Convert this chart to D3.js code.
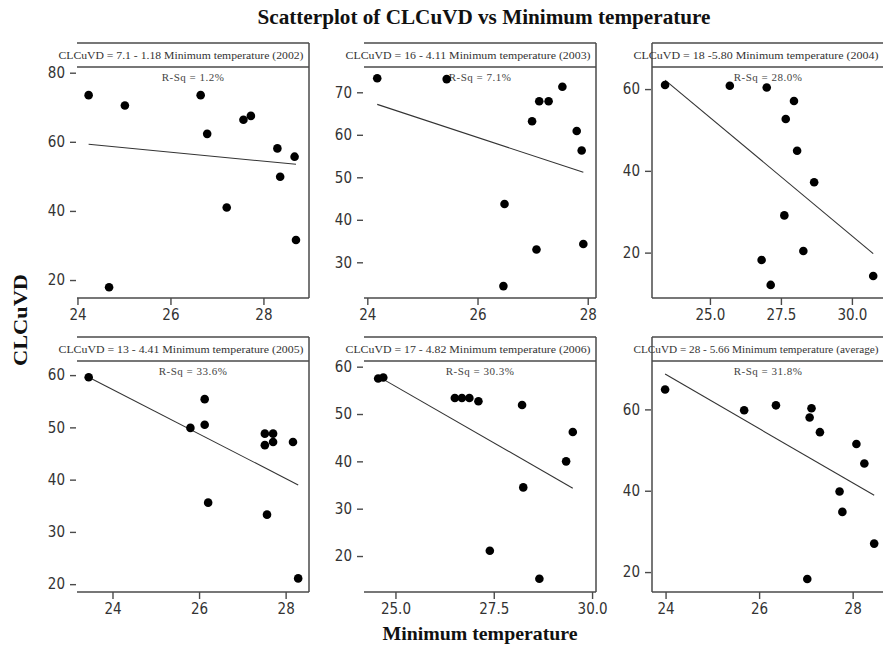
<!DOCTYPE html>
<html><head><meta charset="utf-8">
<script src="https://cdn.jsdelivr.net/npm/d3@7"></script>
<style>html,body{margin:0;padding:0;background:#fff;}</style>
</head><body>
<svg id="chart" width="883" height="649"></svg>
<script>
// ---------- data ----------
const panelNames = ["2002", "2003", "2004", "2005", "2006", "average"];
const equations = [
  "CLCuVD = 7.1 - 1.18 Minimum temperature (2002)",
  "CLCuVD = 16 - 4.11 Minimum temperature (2003)",
  "CLCuVD = 18 -5.80 Minimum temperature (2004)",
  "CLCuVD = 13 - 4.41 Minimum temperature (2005)",
  "CLCuVD = 17 - 4.82 Minimum temperature (2006)",
  "CLCuVD = 28 - 5.66 Minimum temperature (average)"
];
const rSquared = ["R-Sq = 1.2%", "R-Sq = 7.1%", "R-Sq = 28.0%", "R-Sq = 33.6%", "R-Sq = 30.3%", "R-Sq = 31.8%"];

const temp2002 = [24.24, 25.02, 26.65, 26.79, 27.57, 27.73, 28.30, 28.36, 27.21, 28.67, 28.70, 24.68];
const clcuvd2002 = [73.5, 70.5, 73.5, 62.3, 66.4, 67.5, 58.1, 49.9, 41.0, 55.7, 31.6, 17.9];
const temp2003 = [24.18, 25.44, 27.54, 27.12, 27.29, 26.99, 27.80, 27.89, 26.49, 27.07, 27.92, 26.47];
const clcuvd2003 = [73.3, 73.1, 71.3, 67.9, 67.9, 63.2, 60.9, 56.3, 43.7, 33.0, 34.3, 24.4];
const temp2004 = [23.42, 25.70, 27.00, 27.96, 27.67, 28.07, 28.67, 27.62, 28.29, 26.82, 27.14, 30.75];
const clcuvd2004 = [61.0, 60.8, 60.4, 57.1, 52.7, 44.9, 37.2, 29.1, 20.4, 18.2, 12.1, 14.3];
const temp2005 = [23.45, 26.13, 26.13, 25.80, 26.21, 27.52, 27.71, 27.52, 27.71, 28.17, 27.57, 28.29];
const clcuvd2005 = [59.6, 55.4, 50.5, 49.9, 35.6, 48.8, 48.8, 46.6, 47.2, 47.2, 33.3, 21.1];
const temp2006 = [24.56, 24.69, 26.51, 26.69, 26.88, 27.11, 28.22, 29.51, 29.34, 28.25, 27.40, 28.66];
const clcuvd2006 = [57.5, 57.7, 53.4, 53.4, 53.4, 52.7, 51.9, 46.2, 40.0, 34.5, 21.1, 15.2];
const tempAvg = [23.99, 25.68, 26.36, 27.12, 27.08, 27.30, 28.08, 28.25, 27.72, 27.78, 28.46, 27.03];
const clcuvdAvg = [64.9, 59.8, 61.0, 60.3, 58.0, 54.4, 51.5, 46.7, 39.8, 34.8, 27.0, 18.3];

const temps = [temp2002, temp2003, temp2004, temp2005, temp2006, tempAvg];
const clcuvds = [clcuvd2002, clcuvd2003, clcuvd2004, clcuvd2005, clcuvd2006, clcuvdAvg];

// fitted regression lines
const fitIntercept = [90.8, 170.4, 197.8, 159.5, 175.1, 228.7];
const fitSlope = [-1.30, -4.27, -5.79, -4.26, -4.77, -6.67];

// axis ranges and ticks
const xDomains = [[23.99, 28.98], [23.94, 28.15], [22.96, 31.13], [23.18, 28.54], [24.20, 30.10], [23.71, 28.67]];
const yDomains = [[14.8, 81.65], [21.6, 75.95], [8.9, 65.4], [18.5, 62.7], [12.4, 61.2], [15.1, 71.9]];
const xTicks = [[24, 26, 28], [24, 26, 28], [25, 27.5, 30], [24, 26, 28], [25, 27.5, 30], [24, 26, 28]];
const yTicks = [[20, 40, 60, 80], [30, 40, 50, 60, 70], [20, 40, 60], [20, 30, 40, 50, 60], [20, 30, 40, 50, 60], [20, 40, 60]];
const xTickFormats = ["d", "d", ".1f", "d", ".1f", "d"];

const chartTitle = "Scatterplot of CLCuVD vs Minimum temperature";
const xTitle = "Minimum temperature";
const yTitle = "CLCuVD";

// ---------- layout ----------
const svg = d3.select("#chart");
const colLeft = [77, 364, 652];
const rowTop = [43, 337];
const panelW = 232, panelH = 255, headerH = 24;
const frameColor = "#4a4a4a";
const tickFont = "'DejaVu Sans Condensed', 'DejaVu Sans', sans-serif";
const serif = "'Liberation Serif', 'Times New Roman', serif";

svg.append("rect").attr("width", 883).attr("height", 649).attr("fill", "#fff");

svg.append("text")
  .attr("x", 484).attr("y", 24)
  .attr("text-anchor", "middle")
  .attr("font-family", serif).attr("font-weight", "bold").attr("font-size", 20)
  .attr("textLength", 453).attr("lengthAdjust", "spacingAndGlyphs")
  .attr("fill", "#111")
  .text(chartTitle);

svg.append("text")
  .attr("x", 480).attr("y", 640)
  .attr("text-anchor", "middle")
  .attr("font-family", serif).attr("font-weight", "bold").attr("font-size", 19)
  .attr("textLength", 195).attr("lengthAdjust", "spacingAndGlyphs")
  .attr("fill", "#111")
  .text(xTitle);

svg.append("text")
  .attr("transform", "translate(27,320) rotate(-90)")
  .attr("text-anchor", "middle")
  .attr("font-family", serif).attr("font-weight", "bold").attr("font-size", 19)
  .attr("textLength", 92).attr("lengthAdjust", "spacingAndGlyphs")
  .attr("fill", "#111")
  .text(yTitle);

panelNames.forEach((name, i) => {
  const col = i % 3, row = Math.floor(i / 3);
  const x0 = colLeft[col], y0 = rowTop[row];
  const x1 = x0 + panelW, yb = y0 + panelH, yt = y0 + headerH;
  const x = d3.scaleLinear().domain(xDomains[i]).range([x0, x1]);
  const y = d3.scaleLinear().domain(yDomains[i]).range([yb, yt]);
  const g = svg.append("g").attr("class", "panel-" + name);

  // frame
  const lines = [
    [x0, y0, x1, y0], [x0, yt, x1, yt], [x1, y0, x1, yb], [x0, yb, x1, yb]
  ];
  if (col === 2) lines.push([x0, y0, x0, yb]);
  g.selectAll("line.frame").data(lines).join("line")
    .attr("class", "frame")
    .attr("x1", d => d[0]).attr("y1", d => d[1]).attr("x2", d => d[2]).attr("y2", d => d[3])
    .attr("stroke", frameColor).attr("stroke-width", 1.5);

  // header texts
  g.append("text")
    .attr("x", x0 + panelW / 2 - 12).attr("y", y0 + headerH / 2 + 3.5)
    .attr("text-anchor", "middle")
    .attr("font-family", serif).attr("font-size", 10)
    .attr("textLength", 245).attr("lengthAdjust", "spacingAndGlyphs")
    .attr("fill", "#333")
    .text(equations[i]);
  g.append("text")
    .attr("x", x0 + panelW / 2).attr("y", yt + 14)
    .attr("text-anchor", "middle")
    .attr("font-family", serif).attr("font-size", 11)
    .attr("letter-spacing", 0.5)
    .attr("fill", "#444")
    .text(rSquared[i]);

  // axes
  const xa = g.append("g").attr("transform", `translate(0,${yb})`)
    .call(d3.axisBottom(x).tickValues(xTicks[i]).tickFormat(d3.format(xTickFormats[i]))
      .tickSize(7).tickSizeOuter(0).tickPadding(4));
  xa.select(".domain").remove();
  const ya = g.append("g").attr("transform", `translate(${x0 - 1},0)`)
    .call(d3.axisLeft(y).tickValues(yTicks[i]).tickFormat(d3.format("d"))
      .tickSize(6).tickSizeOuter(0).tickPadding(5));
  ya.select(".domain").remove();
  [xa, ya].forEach(a => {
    a.selectAll(".tick line").attr("stroke", frameColor).attr("stroke-width", 1.4);
    a.selectAll(".tick text").attr("font-family", tickFont).attr("font-size", 15).attr("fill", "#333");
  });

  // regression line over the data range
  const xs = temps[i];
  const ext = d3.extent(xs);
  const fit = ext.map(t => [t, fitIntercept[i] + fitSlope[i] * t]);
  g.append("path")
    .attr("d", d3.line().x(d => x(d[0])).y(d => y(d[1]))(fit))
    .attr("stroke", "#333").attr("stroke-width", 1.1).attr("fill", "none");

  // points
  const pts = xs.map((t, k) => [t, clcuvds[i][k]]);
  g.selectAll("path.pt").data(pts).join("path")
    .attr("class", "pt")
    .attr("transform", d => `translate(${x(d[0])},${y(d[1])})`)
    .attr("d", d3.symbol(d3.symbolCircle, 58))
    .attr("fill", "#000");
});
</script>
</body></html>
